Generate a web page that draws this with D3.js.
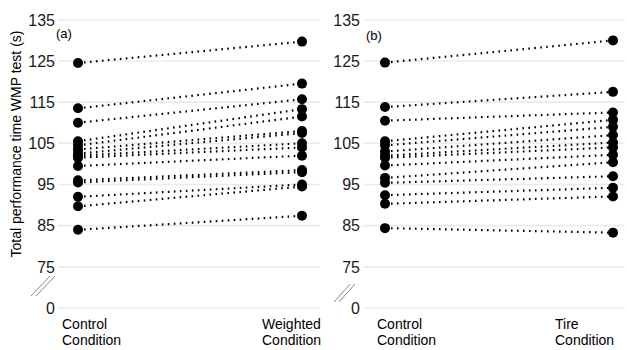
<!DOCTYPE html>
<html><head><meta charset="utf-8">
<script src="https://cdn.jsdelivr.net/npm/d3@7"></script>
<style>body{margin:0;background:#fff;} svg{display:block;font-family:"Liberation Sans",Arial,sans-serif;}</style>
</head><body>
<script>
const yTickValues = [65, 75, 85, 95, 105, 115, 125, 135];
const yTickLabels = ["0", "75", "85", "95", "105", "115", "125", "135"];

const panelALabels = ["(a)"];
const panelACategories = ["Control Condition", "Weighted Condition"];
const panelAControl  = [124.5, 113.5, 110.0, 105.5, 104.5, 103.5, 102.5, 102.0, 101.5, 99.5, 96.0, 95.5, 92.0, 89.7, 84.0];
const panelAWeighted = [129.7, 119.5, 115.7, 113.3, 111.5, 108.0, 107.5, 105.0, 104.0, 102.0, 98.5, 98.0, 95.0, 94.5, 87.4];

const panelBLabels = ["(b)"];
const panelBCategories = ["Control Condition", "Tire Condition"];
const panelBControl = [124.6, 113.8, 110.5, 105.5, 104.5, 103.0, 102.0, 101.5, 99.6, 96.6, 95.4, 92.4, 90.3, 84.4];
const panelBTire    = [130.0, 117.5, 112.5, 110.7, 109.0, 107.0, 105.2, 104.0, 102.2, 100.4, 97.0, 94.2, 92.1, 83.3];

const yTitle = "Total performance time WMP test (s)";

const W = 627, H = 350;
const svg = d3.select("body").append("svg").attr("width", W).attr("height", H);

const y = d3.scaleLinear().domain([65, 135]).range([308, 19.8]);

function panel(cfg) {
  const g = svg.append("g");
  const x = d3.scalePoint().domain(cfg.cats).range([cfg.p0, cfg.p1]);
  // gridlines
  g.selectAll("line.grid").data(yTickValues).join("line")
    .attr("x1", cfg.g0).attr("x2", cfg.g1)
    .attr("y1", d => y(d)).attr("y2", d => y(d))
    .attr("stroke", "#ebebeb").attr("stroke-width", 1.6);
  // tick labels
  g.selectAll("text.tick").data(yTickValues).join("text")
    .attr("x", cfg.g0 - 3).attr("y", d => y(d)).attr("dy", "0.36em")
    .attr("text-anchor", "end").attr("font-size", 16).attr("fill", "#1a1a1a")
    .text((d, i) => yTickLabels[i]);
  // break marks
  const b = cfg.brk;
  [0, 5].forEach(off => {
    g.append("line").attr("x1", b[0] + off).attr("y1", b[1]).attr("x2", b[2] + off).attr("y2", b[3])
      .attr("stroke", "#888").attr("stroke-width", 1);
  });
  // lines
  const pairs = cfg.a.map((v, i) => [v, cfg.b[i]]);
  g.selectAll("line.pair").data(pairs).join("line")
    .attr("x1", x(cfg.cats[0])).attr("x2", x(cfg.cats[1]))
    .attr("y1", d => y(d[0])).attr("y2", d => y(d[1]))
    .attr("stroke", "#000").attr("stroke-width", 2.2)
    .attr("stroke-dasharray", "1.6 4.4");
  // points
  g.selectAll("circle.a").data(cfg.a).join("circle")
    .attr("cx", x(cfg.cats[0])).attr("cy", d => y(d)).attr("r", 5).attr("fill", "#000");
  g.selectAll("circle.b").data(cfg.b).join("circle")
    .attr("cx", x(cfg.cats[1])).attr("cy", d => y(d)).attr("r", 5).attr("fill", "#000");
  // panel label
  g.append("text").attr("x", cfg.lab[0]).attr("y", cfg.lab[1]).attr("font-size", 13)
    .attr("fill", "#000").text(cfg.label);
  // x labels
  cfg.cats.forEach((c, i) => {
    const parts = c.split(" ");
    const t = g.append("text").attr("x", cfg.xl[i]).attr("y", 329)
      .attr("font-size", 14).attr("fill", "#000");
    parts.forEach((p, j) => t.append("tspan").attr("x", cfg.xl[i]).attr("dy", j ? 16 : 0).text(p));
  });
}

panel({cats: panelACategories, a: panelAControl, b: panelAWeighted, p0: 78, p1: 302,
  g0: 58, g1: 320, brk: [31, 296, 50, 276], lab: [56, 38], label: panelALabels[0], xl: [62, 262]});
panel({cats: panelBCategories, a: panelBControl, b: panelBTire, p0: 385, p1: 613,
  g0: 363, g1: 625, brk: [334, 302, 350, 284], lab: [366, 40], label: panelBLabels[0], xl: [377, 555]});

svg.append("text").attr("transform", "translate(21,144) rotate(-90)")
  .attr("text-anchor", "middle").attr("font-size", 14).attr("fill", "#000").text(yTitle);
</script>
</body></html>
